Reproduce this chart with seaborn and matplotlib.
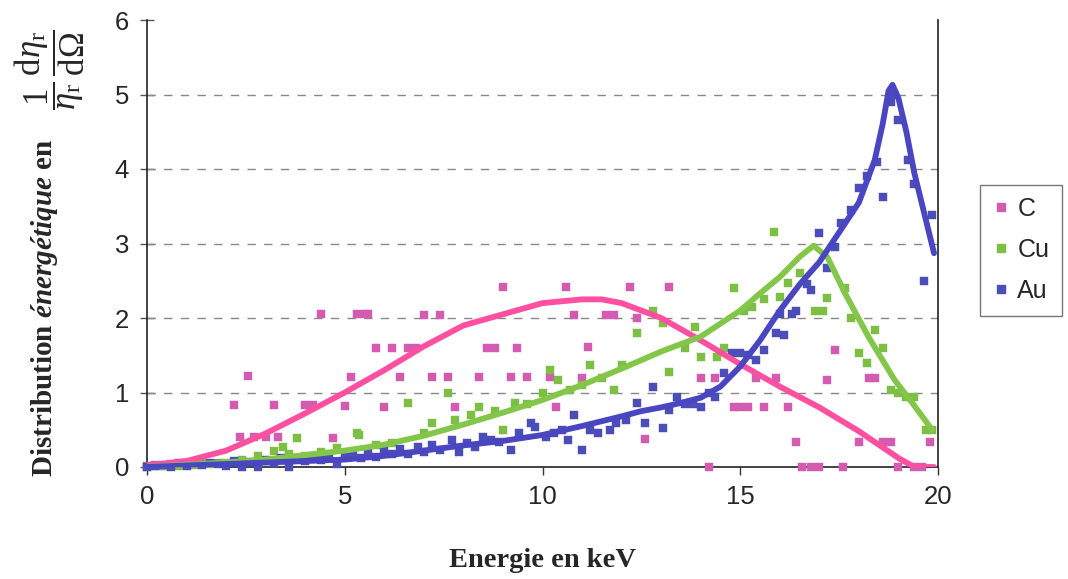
import numpy as np
import pandas as pd
import matplotlib
matplotlib.use("Agg")
import matplotlib.pyplot as plt
import seaborn as sns
from matplotlib.lines import Line2D

# ---------------- data ----------------
c_x = [0, 0.2, 0.4, 0.6, 0.8, 1.0, 2.2, 2.36, 2.56, 2.7, 3.0, 3.2, 3.3, 4.0, 4.2, 4.4, 4.7, 5.0,
       5.15, 5.3, 5.5, 5.6, 5.8, 6.0, 6.2, 6.4, 6.6, 6.8, 7.0, 7.2, 7.4, 7.6, 7.8, 8.4, 8.6, 8.8,
       9.0, 9.2, 9.35, 9.6, 10.2, 10.35, 10.6, 10.8, 11.0, 11.15, 11.6, 11.8, 12.2, 12.4, 12.6,
       13.2, 14.0, 14.2, 14.35, 14.85, 15.0, 15.2, 15.4, 15.6, 15.9, 16.2, 16.4, 16.55, 16.8,
       17.0, 17.2, 17.4, 17.6, 18.0, 18.25, 18.4, 18.6, 18.8, 19.0, 19.4, 19.6, 19.8]
c_y = [0.02, 0.03, 0.02, 0.04, 0.03, 0.05, 0.83, 0.40, 1.22, 0.40, 0.40, 0.83, 0.40, 0.83, 0.83, 2.05, 0.39, 0.82,
       1.21, 2.05, 2.05, 2.05, 1.60, 0.80, 1.60, 1.21, 1.60, 1.60, 2.04, 1.21, 2.04, 1.21, 0.80, 1.21, 1.60, 1.60,
       2.42, 1.21, 1.60, 1.21, 1.21, 0.80, 2.42, 2.04, 1.19, 1.61, 2.04, 2.04, 2.42, 2.00, 0.38,
       2.42, 1.19, 0.00, 1.19, 0.80, 0.80, 0.80, 1.19, 0.80, 1.19, 0.80, 0.34, 0.00, 0.00,
       0.00, 1.17, 1.57, 0.00, 0.34, 1.19, 1.19, 0.34, 0.34, 0.00, 0.00, 0.00, 0.34]

cu_x = [0, 0.2, 0.4, 0.6, 0.8, 1.0, 1.2, 1.4, 1.6, 1.8, 2.0, 2.4, 2.8, 3.0, 3.2, 3.45, 3.6, 3.8, 4.0,
        4.4, 4.8, 5.3, 5.35, 5.8, 6.2, 6.6, 7.0, 7.2, 7.6, 7.8, 8.2, 8.4, 8.8, 9.0, 9.3, 9.6, 10.0,
        10.2, 10.4, 10.7, 11.0, 11.2, 11.5, 11.8, 12.0, 12.4, 12.8, 13.05, 13.2, 13.6, 13.85, 14.0,
        14.4, 14.6, 14.85, 15.1, 15.3, 15.6, 15.85, 16.0, 16.2, 16.5, 16.9, 17.1, 17.2, 17.65, 17.8,
        18.0, 18.2, 18.4, 18.6, 18.8, 19.0, 19.2, 19.4, 19.7, 19.85]
cu_y = [0.0, 0.02, 0.01, 0.03, 0.02, 0.04, 0.03, 0.05, 0.04, 0.06, 0.05, 0.10, 0.15, 0.08, 0.22, 0.27, 0.18, 0.39, 0.15,
        0.20, 0.25, 0.45, 0.43, 0.30, 0.32, 0.86, 0.45, 0.59, 0.99, 0.63, 0.70, 0.80, 0.75, 0.50, 0.86, 0.85, 0.99,
        1.30, 1.17, 1.03, 1.10, 1.37, 1.20, 1.03, 1.37, 1.80, 2.10, 1.93, 1.28, 1.60, 1.88, 1.48,
        1.48, 1.60, 2.40, 2.10, 2.15, 2.25, 3.15, 2.28, 2.47, 2.60, 2.10, 2.10, 2.27, 2.40, 2.00,
        1.53, 1.40, 1.84, 1.60, 1.03, 1.00, 0.94, 0.94, 0.50, 0.50]

au_x = [0, 0.2, 0.4, 0.6, 0.8, 1.0, 1.2, 1.4, 1.6, 1.8, 2.0, 2.2, 2.4, 2.6, 2.8, 3.0, 3.2, 3.4, 3.6,
        3.8, 4.0, 4.2, 4.4, 4.6, 4.8, 5.0, 5.2, 5.4, 5.6, 5.8, 6.0, 6.2, 6.4, 6.6, 6.85, 7.0, 7.2,
        7.4, 7.7, 7.9, 8.1, 8.3, 8.5, 8.7, 8.9, 9.2, 9.4, 9.7, 9.8, 10.1, 10.3, 10.5, 10.65, 10.8,
        11.0, 11.2, 11.4, 11.7, 11.85, 12.1, 12.4, 12.6, 12.8, 13.05, 13.2, 13.4, 13.6, 13.8, 14.0,
        14.2, 14.35, 14.6, 14.8, 15.0, 15.2, 15.4, 15.6, 15.9, 16.0, 16.1, 16.3, 16.4, 16.7, 16.8,
        17.0, 17.2, 17.4, 17.55, 17.8, 18.0, 18.2, 18.45, 18.6, 18.8, 18.9, 19.0, 19.25, 19.4,
        19.65, 19.85]
au_y = [0.0, 0.02, 0.03, 0.0, 0.05, 0.02, 0.05, 0.03, 0.06, 0.04, 0.02, 0.08, 0.0, 0.07, 0.0, 0.10, 0.05, 0.12, 0.0,
        0.12, 0.08, 0.15, 0.10, 0.16, 0.04, 0.15, 0.18, 0.12, 0.20, 0.14, 0.22, 0.18, 0.24, 0.17, 0.27, 0.20, 0.30,
        0.23, 0.36, 0.20, 0.32, 0.27, 0.40, 0.36, 0.33, 0.23, 0.45, 0.59, 0.54, 0.40, 0.45, 0.50, 0.36, 0.70,
        0.23, 0.50, 0.45, 0.50, 0.59, 0.63, 0.86, 0.59, 1.08, 0.52, 0.76, 0.94, 0.85, 0.85, 0.80,
        0.99, 0.94, 1.26, 1.53, 1.53, 1.50, 1.44, 1.57, 1.80, 2.05, 1.77, 2.06, 2.10, 2.45, 2.37,
        3.14, 2.67, 2.95, 3.28, 3.45, 3.74, 3.90, 4.10, 3.62, 4.90, 5.00, 4.66, 4.12, 3.80,
        2.50, 3.38]

# fitted curves
c_fit_x = [0, 1, 2, 3, 4, 5, 6, 7, 8, 9, 10, 11, 11.5, 12, 13, 14, 15, 16, 17, 18, 19, 19.4, 19.9]
c_fit_y = [0.02, 0.08, 0.22, 0.45, 0.72, 1.0, 1.3, 1.62, 1.9, 2.05, 2.2, 2.25, 2.25, 2.2, 2.0, 1.7, 1.38,
           1.08, 0.8, 0.48, 0.12, 0.0, 0.0]
cu_fit_x = [0, 1, 2, 3, 4, 5, 6, 7, 8, 9, 10, 11, 12, 13, 14, 15, 15.5, 16, 16.5, 16.85, 17.2, 17.65,
            18.25, 18.9, 19.35, 19.85]
cu_fit_y = [0.0, 0.03, 0.06, 0.1, 0.16, 0.22, 0.3, 0.42, 0.57, 0.73, 0.9, 1.1, 1.32, 1.55, 1.75, 2.1, 2.33,
            2.55, 2.82, 2.97, 2.82, 2.33, 1.74, 1.17, 0.86, 0.5]
au_fit_x = [0, 1, 2, 3, 4, 5, 6, 7, 8, 9, 10, 11, 12, 12.5, 13, 13.5, 14, 14.5, 15, 15.5, 16, 16.5, 17,
            17.5, 18, 18.4, 18.6, 18.75, 18.85, 19.0, 19.2, 19.4, 19.9]
au_fit_y = [0.0, 0.02, 0.04, 0.06, 0.08, 0.1, 0.15, 0.22, 0.29, 0.35, 0.43, 0.55, 0.68, 0.75, 0.8, 0.86,
            0.93, 1.08, 1.35, 1.7, 2.1, 2.45, 2.75, 3.15, 3.55, 4.12, 4.6, 5.05, 5.13, 4.95, 4.5, 3.95, 2.87]

series = ["C", "Cu", "Au"]
marker_colors = {"C": "#D45CB0", "Cu": "#7DBE45", "Au": "#4B4DB8"}
line_colors = {"C": "#FF4FA0", "Cu": "#84C64A", "Au": "#4A45C0"}
x_ticks = [0, 5, 10, 15, 20]
y_ticks = [0, 1, 2, 3, 4, 5, 6]

pts = pd.concat([
    pd.DataFrame({"E": c_x, "D": c_y, "s": "C"}),
    pd.DataFrame({"E": cu_x, "D": cu_y, "s": "Cu"}),
    pd.DataFrame({"E": au_x, "D": au_y, "s": "Au"}),
])
fits = {
    "C": pd.DataFrame({"E": c_fit_x, "D": c_fit_y}),
    "Cu": pd.DataFrame({"E": cu_fit_x, "D": cu_fit_y}),
    "Au": pd.DataFrame({"E": au_fit_x, "D": au_fit_y}),
}

# ---------------- plot ----------------
sns.set_theme(style="white")
plt.rcParams["font.family"] = ["Liberation Sans", "DejaVu Sans"]
plt.rcParams["mathtext.fontset"] = "custom"
plt.rcParams["mathtext.rm"] = "Liberation Serif"
plt.rcParams["mathtext.it"] = "Liberation Serif:italic"
plt.rcParams["mathtext.bf"] = "Liberation Serif:bold"
plt.rcParams["mathtext.bfit"] = "Liberation Serif:italic:bold"

fig = plt.figure(figsize=(10.68, 5.79), dpi=100)
ax = fig.add_axes([147 / 1068, 1 - 467 / 579, (938 - 147) / 1068, (467 - 20) / 579])

for s in series:
    sub = pts[pts["s"] == s]
    sns.scatterplot(data=sub, x="E", y="D", ax=ax, marker="s", s=38, color=marker_colors[s],
                    edgecolor=marker_colors[s], linewidth=0.3, clip_on=False, legend=False, zorder=3)
for s in series:
    sns.lineplot(data=fits[s], x="E", y="D", ax=ax, color=line_colors[s], linewidth=4.2,
                 legend=False, zorder=4, sort=False)

ax.set_xlim(0, 20)
ax.set_ylim(0, 6)
ax.set_xticks(x_ticks)
ax.set_yticks(y_ticks)
ax.tick_params(axis="x", labelsize=18.5, length=6, width=1, color="#333333", direction="out",
               bottom=True, pad=7)
ax.tick_params(axis="y", labelsize=18.5, length=10, width=1, color="#555555", direction="inout",
               left=True, pad=8)
for y in y_ticks[1:-1]:
    ax.axhline(y, color="#888888", linestyle=(0, (6, 6)), linewidth=1.0, zorder=1)

for side in ["left", "bottom", "right"]:
    ax.spines[side].set_visible(True)
    ax.spines[side].set_color("#222222")
    ax.spines[side].set_linewidth(1.2)
ax.spines["top"].set_visible(False)

ax.set_xlabel("Energie en keV", fontsize=20.5, fontweight="bold", family="Liberation Serif", labelpad=28)
ax.set_ylabel("")
fig.text(45 / 1068, 1 - 308 / 579, r"Distribution $\mathbfit{énergétique}$ en",
         rotation=90, ha="center", va="center", fontsize=21, fontweight="bold", family="Liberation Serif")
fig.text(50 / 1068, 1 - 70 / 579,
         r"$\dfrac{1}{\eta_\mathrm{r}}\,\dfrac{\mathrm{d}\eta_\mathrm{r}}{\mathrm{d}\Omega}$",
         rotation=90, ha="center", va="center", fontsize=25, family="Liberation Serif")

handles = [Line2D([0], [0], marker="s", linestyle="none", markersize=6,
                  markerfacecolor=marker_colors[s], markeredgecolor=marker_colors[s]) for s in series]
leg = ax.legend(handles, series, loc="center left", bbox_to_anchor=(1.053, 0.485), fontsize=18,
                frameon=True, fancybox=False, edgecolor="#555555", handlelength=0.7,
                handletextpad=0.3, labelspacing=0.68, borderpad=0.5, borderaxespad=0)
leg.get_frame().set_linewidth(1.0)

fig.savefig("out.png", dpi=100)
